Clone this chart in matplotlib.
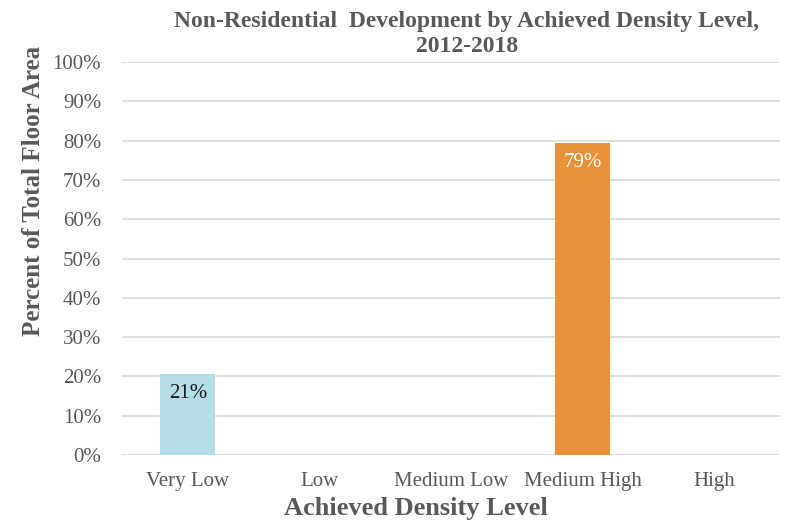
import numpy as np
import matplotlib.pyplot as plt
from matplotlib.ticker import PercentFormatter

# données
categories = ["Very Low", "Low", "Medium Low", "Medium High", "High"]
values = [20.6, 0, 0, 79.4, 0]
labels = ["21%", "", "", "79%", ""]
colors = ["#B4DDE8", "#B4DDE8", "#B4DDE8", "#E8923C", "#E8923C"]
label_colors = ["#1a1a1a", "#1a1a1a", "#1a1a1a", "#FFFFFF", "#FFFFFF"]

plt.rcParams['font.family'] = ['Liberation Serif', 'DejaVu Serif']
gris = "#595959"

fig = plt.figure(figsize=(7.86, 5.22), dpi=100)
ax = fig.add_axes([122 / 786, 1 - 455 / 522, 658 / 786, 393 / 522])

x = np.arange(len(categories))
ax.bar(x, values, width=0.42, color=colors, zorder=2)

for xi, v, lab, c in zip(x, values, labels, label_colors):
    if lab:
        ax.text(xi, v - 2.6, lab, ha="center", va="top", fontsize=15, color=c, zorder=3)

ax.set_xlim(-0.5, len(categories) - 0.5)
ax.set_ylim(0, 100)
ax.set_yticks(np.arange(0, 101, 10))
ax.yaxis.set_major_formatter(PercentFormatter(decimals=0))
ax.set_xticks(x)
ax.set_xticklabels(categories)

ax.grid(axis="y", color="#D9D9D9", linewidth=1.2, zorder=0)
for s in ax.spines.values():
    s.set_visible(False)
ax.tick_params(axis="both", length=0, labelsize=15, labelcolor=gris)
ax.tick_params(axis="y", pad=15)
ax.tick_params(axis="x", pad=12)

ax.set_ylabel("Percent of Total Floor Area", fontsize=18, fontweight="bold", color=gris)
ax.yaxis.set_label_coords(-0.117, 0.672)
ax.set_xlabel("Achieved Density Level", fontsize=19, fontweight="bold", color=gris)
ax.xaxis.set_label_coords(0.447, -0.106)
fig.text(0.594, 0.978, "Non-Residential  Development by Achieved Density Level,\n2012-2018",
         ha="center", va="top", fontsize=17, fontweight="bold", color=gris, linespacing=1.25)

fig.savefig("out.png", dpi=100)
